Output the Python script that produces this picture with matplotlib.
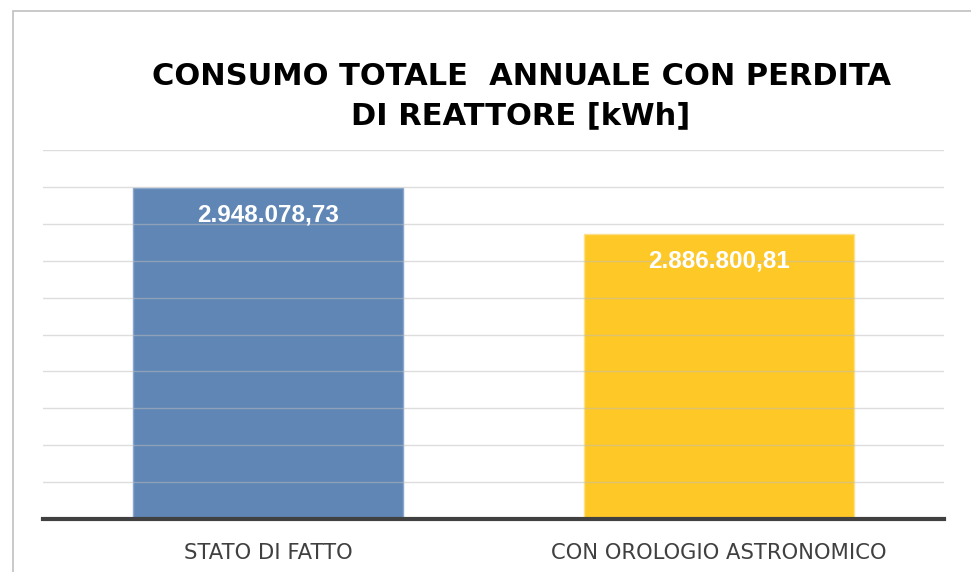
import matplotlib
matplotlib.use('Agg')
import matplotlib.pyplot as plt
from matplotlib.patches import Rectangle

categories = ['STATO DI FATTO', 'CON OROLOGIO ASTRONOMICO']
values = [2948078.73, 2886800.81]
value_labels = ['2.948.078,73', '2.886.800,81']
bar_colors = ['#5f86b5', '#fec827']
title = 'CONSUMO TOTALE  ANNUALE CON PERDITA\nDI REATTORE [kWh]'

W, H = 971, 572
fig = plt.figure(figsize=(W / 100, H / 100), dpi=100)

# outer chart frame (cropped at right and bottom in the original)
fig.patches.append(Rectangle((13 / W, -0.1), 1.2, 1 - 11 / H + 0.1,
                             transform=fig.transFigure, fill=False,
                             edgecolor='#c0c0c0', linewidth=1.2))

ax = fig.add_axes([43 / W, 1 - 519 / H, (944 - 43) / W, (519 - 150) / H])
ax.bar(range(len(values)), values, width=0.6, color=bar_colors, zorder=2,
       edgecolor=['#8aa6cc', '#fde08a'], linewidth=1)
ax.set_xlim(-0.5, 1.5)
ax.set_ylim(2500000, 3000000)
ax.set_yticks(range(2550000, 3000001, 50000))
ax.yaxis.grid(True, color='#bdbdbd', linewidth=1, alpha=0.5, zorder=3)
ax.set_axisbelow(False)
ax.tick_params(axis='y', left=False, labelleft=False)
ax.tick_params(axis='x', bottom=False, pad=14)
for s in ['top', 'right', 'left']:
    ax.spines[s].set_visible(False)
ax.spines['bottom'].set_color('#404040')
ax.spines['bottom'].set_linewidth(3)
ax.spines['bottom'].set_zorder(4)

ax.set_xticks(range(len(categories)))
ax.set_xticklabels(categories, fontsize=15.2, color='#404040',
                   family='DejaVu Sans')

for i, (v, lab) in enumerate(zip(values, value_labels)):
    ax.annotate(lab, (i, v), xytext=(0, -19.5), textcoords='offset points',
                ha='center', va='center', color='white', fontsize=17.5,
                fontweight='bold', family='Liberation Sans', zorder=5)

fig.text(521 / W, 1 - 96 / H, title, ha='center', va='center',
         fontsize=22, fontweight='bold', family='DejaVu Sans',
         linespacing=1.45)

fig.savefig('out.png', dpi=100)
